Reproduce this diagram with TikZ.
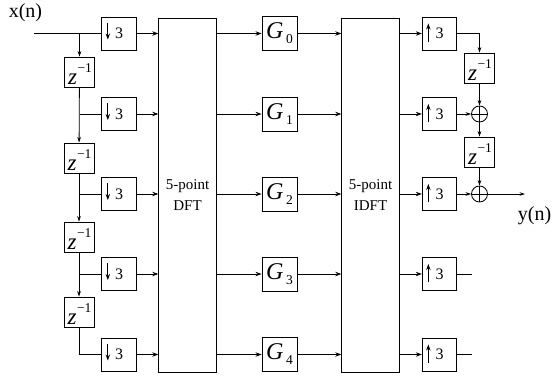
\documentclass[tikz,border=0pt]{standalone}
\usepackage{fontspec}
\setmainfont{Liberation Serif}
\usetikzlibrary{arrows.meta}
\newcommand{\zinv}{\hspace{1pt}\rule[-14pt]{0pt}{28pt}\raisebox{-12pt}[0pt][0pt]{\fontsize{23}{23}\selectfont\itshape z}\kern0.5pt{\fontsize{13.5}{13.5}\selectfont −1}}
\newcommand{\gain}[1]{{\fontsize{24}{24}\selectfont\itshape G}\kern2.5pt\raisebox{-5pt}{\fontsize{13.5}{13.5}\selectfont #1}}
\begin{document}
\begin{tikzpicture}[x=1pt,y=-1pt,
  line width=0.85pt,
  tip/.style={-{Stealth[length=6pt,width=4.4pt]}},
  thin tip/.style={-{Stealth[length=5.5pt,width=3.6pt]},line width=0.8pt},
  rate/.style={draw,inner sep=0pt,minimum width=34.5pt,minimum height=33pt,font=\fontsize{16}{16}\selectfont},
  gbox/.style={draw,inner sep=0pt,minimum width=35pt,minimum height=34pt},
  delay/.style={draw,inner sep=0pt,minimum width=30pt,minimum height=30pt},
  transform/.style={draw,inner sep=0pt,minimum width=57.5pt,minimum height=354pt,align=center,font=\fontsize{15}{20.5}\selectfont},
  summer/.style={draw,circle,inner sep=0pt,minimum size=16pt},
  sig/.style={inner sep=0pt,font=\fontsize{20}{20}\selectfont}]
\useasboundingbox (0,0) rectangle (552,376);
% transforms
\node[transform] (dft) at (187.5,195) {5-point\\DFT};
\node[transform] (idft) at (370.5,195) {5-point\\IDFT};
% signal labels
\node[sig] (xl) at (25.5,13) {x(n)};
\node[sig] (yl) at (534.5,216) {y(n)};
% rows
\foreach \i/\y in {0/33.5,1/114,2/194,3/274,4/354.5}{
  \node[rate] (d\i) at (119,\y) {3};
  \node[gbox] (g\i) at (279.5,\y) {\gain{\i}};
  \node[rate] (u\i) at (439.5,\y) {3};
  \draw[tip] ([shift={(6.5,-11)}]d\i.west) -- ([shift={(6.5,6)}]d\i.west);
  \draw[tip] ([shift={(6.5,8)}]u\i.west) -- ([shift={(6.5,-10)}]u\i.west);
  \draw[tip] (d\i) -- (d\i -| dft.west);
  \draw[tip] (d\i -| dft.east) -- (g\i);
  \draw[tip] (g\i) -- (g\i -| idft.west);
  \draw[tip] (g\i -| idft.east) -- (u\i);
}
% input delay line
\node[delay] (z1) at (79.5,72) {\zinv};
\node[delay] (z2) at (79,158) {\zinv};
\node[delay] (z3) at (79,237) {\zinv};
\node[delay] (z4) at (79,312) {\zinv};
\coordinate (in) at (34,33.5);
\draw (in) -- (d0);
\draw[thin tip] (z1 |- d0) -- (z1);
\draw (z1 |- d1) -- (d1);
\draw[thin tip] (z1) -- (z2);
\draw (z2 |- d2) -- (d2);
\draw[thin tip] (z2) -- (z3);
\draw (z3 |- d3) -- (d3);
\draw[thin tip] (z3) -- (z4);
\draw (z4) |- (d4);
% output overlap-add
\node[delay] (y1) at (479.5,68) {\zinv};
\node[delay] (y2) at (479.5,152) {\zinv};
\node[summer] (s1) at (479.5,114) {};
\node[summer] (s2) at (479.5,194) {};
\foreach \s in {s1,s2}{
  \draw[line width=0.6pt] (\s.north) -- (\s.south) (\s.west) -- (\s.east);
}
\coordinate (out) at (525,194);
\coordinate (e3) at (472,274);
\coordinate (e4) at (472,354.5);
\draw[thin tip] (u0) -| (y1);
\draw[thin tip] (y1) -- (s1);
\draw[thin tip] (u1) -- (s1);
\draw[thin tip] (s1) -- (y2);
\draw[thin tip] (y2) -- (s2);
\draw[thin tip] (u2) -- (s2);
\draw[thin tip] (s2) -- (out);
\draw (u3) -- (e3);
\draw (u4) -- (e4);
\end{tikzpicture}
\end{document}
